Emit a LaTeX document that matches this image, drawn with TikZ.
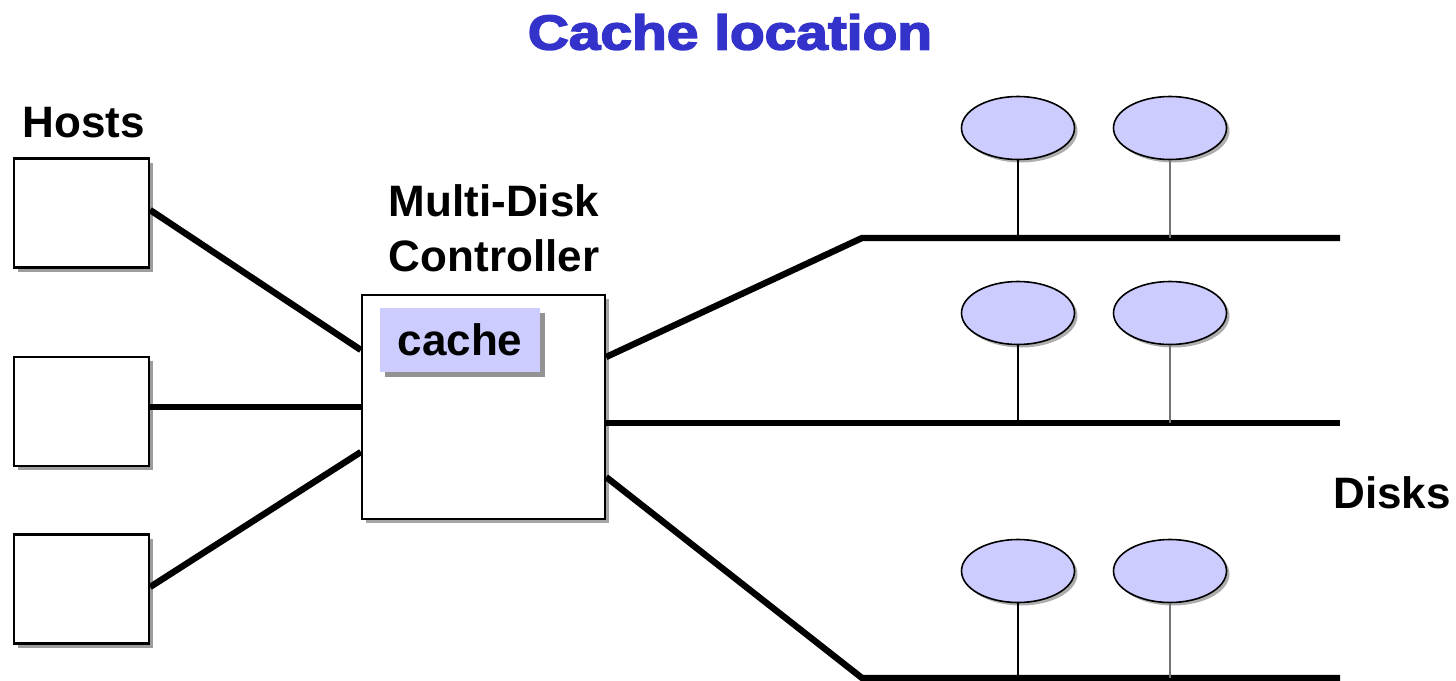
\documentclass[tikz,border=0pt]{standalone}
\usepackage{fontspec}
\setmainfont{Liberation Sans}
\newfontfamily\titlefont{Liberation Sans Bold}[FakeBold=3]
\usetikzlibrary{shadows,shapes.geometric}
\definecolor{titleblue}{RGB}{51,51,204}
\definecolor{diskfill}{RGB}{204,204,255}
\tikzset{
  lbl/.style={font=\fontsize{22}{27.5}\selectfont\bfseries, inner sep=0pt},
  hostbox/.style={draw, line width=1.1pt, fill=white, minimum width=67.5pt, minimum height=54.5pt,
    drop shadow={shadow xshift=2pt, shadow yshift=-2pt, opacity=0.55, fill=black!70}},
  ctrlbox/.style={draw, line width=1.1pt, fill=white, minimum width=121.5pt, minimum height=112pt,
    drop shadow={shadow xshift=2pt, shadow yshift=-2pt, opacity=0.5, fill=black!70}},
  cachebox/.style={lbl, fill=diskfill, minimum width=80pt, minimum height=32pt,
    drop shadow={shadow xshift=2.5pt, shadow yshift=-2.5pt, opacity=0.6, fill=black!70}},
  disk/.style={ellipse, draw, line width=0.8pt, fill=diskfill, minimum width=56.5pt, minimum height=31.5pt,
    inner sep=0pt, drop shadow={shadow xshift=1.5pt, shadow yshift=-1.5pt, opacity=0.45, fill=black!70}},
  wire/.style={line width=3.2pt},
  stem/.style={line width=0.9pt},
}
\begin{document}
\begin{tikzpicture}[x=0.5pt, y=-0.5pt]
\useasboundingbox (0,0) rectangle (1456,680);

% labels
\node[inner sep=0pt, text=titleblue] (title) at (730,32)
  {\scalebox{1.16}[1]{\fontsize{24.5}{28}\selectfont\titlefont Cache location}};
\node[lbl, anchor=west] (hostslbl) at (22,123) {Hosts};
\node[lbl, align=center] (ctrllbl) at (494,228) {Multi-Disk\\Controller};
\node[lbl] (diskslbl) at (1392,493) {Disks};

% hosts
\node[hostbox] (h1) at (81.5,213) {};
\node[hostbox] (h2) at (81.5,411.5) {};
\node[hostbox] (h3) at (81.5,589) {};

% controller with its cache
\node[ctrlbox] (ctrl) at (483.5,407) {};
\node[cachebox] (cache) at (460,340) {cache};

% host links
\draw[wire] (h1.east |- 0,210) -- (ctrl.west |- 0,350);
\draw[wire] (h2.east |- 0,407) -- (ctrl.west |- 0,407);
\draw[wire] (h3.east |- 0,587) -- (ctrl.west |- 0,452);

% disk buses
\coordinate (b1) at (862,238);  \coordinate (b1e) at (1340,238);
\coordinate (b2) at (862,423);  \coordinate (b2e) at (1340,423);
\coordinate (b3) at (862,678);  \coordinate (b3e) at (1340,678);
\draw[wire] (ctrl.east |- 0,357) -- (b1) -- (b1e);
\draw[wire] (ctrl.east |- 0,423) -- (b2) -- (b2e);
\draw[wire] (ctrl.east |- 0,477) -- (b3) -- (b3e);

% disks
\node[disk] (d11) at (1018,128) {};
\node[disk] (d12) at (1170,128) {};
\node[disk] (d21) at (1018,313) {};
\node[disk] (d22) at (1170,313) {};
\node[disk] (d31) at (1018,571) {};
\node[disk] (d32) at (1170,571) {};

\draw[stem] (d11.south) -- (d11.south |- b1);
\draw[stem, black!55] (d12.south) -- (d12.south |- b1);
\draw[stem] (d21.south) -- (d21.south |- b2);
\draw[stem, black!55] (d22.south) -- (d22.south |- b2);
\draw[stem] (d31.south) -- (d31.south |- b3);
\draw[stem, black!55] (d32.south) -- (d32.south |- b3);
\end{tikzpicture}
\end{document}
